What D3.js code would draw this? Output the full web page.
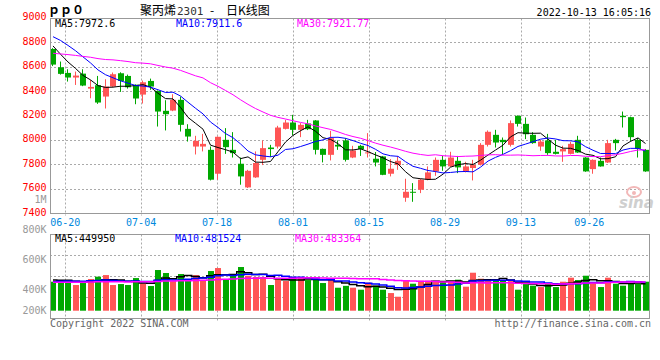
<!DOCTYPE html>
<html><head><meta charset="utf-8">
<script src="https://cdn.jsdelivr.net/npm/d3@7"></script>
<style>html,body{margin:0;padding:0;background:#fff;}svg{display:block;}</style>
</head><body>
<svg id="c" width="660" height="360"></svg>
<script>
// ---------------- DATA ----------------
const dates = ["06-16","06-17","06-20","06-21","06-22","06-23","06-24","06-27","06-28","06-29","06-30",
"07-01","07-04","07-05","07-06","07-07","07-08","07-11","07-12","07-13","07-14","07-15","07-18","07-19","07-20","07-21","07-22","07-25","07-26","07-27","07-28","07-29",
"08-01","08-02","08-03","08-04","08-05","08-08","08-09","08-10","08-11","08-12","08-15","08-16","08-17","08-18","08-19","08-22","08-23","08-24","08-25","08-26","08-29","08-30","08-31",
"09-01","09-02","09-05","09-06","09-07","09-08","09-09","09-13","09-14","09-15","09-16","09-19","09-20","09-21","09-22","09-23","09-26","09-27","09-28","09-29","09-30",
"10-10","10-11","10-12","10-13"];

const open  = [8745,8595,8549,8511,8543,8420,8448,8355,8437,8546,8524,8451,8371,8483,8401,8238,8240,8328,8090,7945,
               7945,7918,7722,8000,7918,7804,7610,7692,7836,7937,7945,8090,8142,8082,8134,8159,7926,7877,7959,7995,
               7855,7951,7891,7845,7864,7722,7793,7525,7574,7591,7673,7741,7836,7782,7828,7738,7769,7796,7959,8041,
               8000,7959,8197,8131,8041,7945,7995,7902,7905,7885,8000,7855,7760,7828,7814,8000,8197,8186,8000,7918];
const high  = [8752,8642,8579,8560,8579,8491,8524,8497,8552,8554,8535,8455,8486,8502,8405,8325,8374,8355,8128,8033,
               8049,7945,8027,8096,8063,7855,7754,7905,7995,7959,8115,8164,8205,8137,8164,8162,7928,8074,7995,8014,
               7951,7959,8055,7900,7868,7842,7864,7681,7645,7681,7782,7855,7868,7902,7868,7820,7836,7973,8077,8082,
               8019,8159,8200,8183,8063,8000,8049,8000,7951,7984,8033,7858,7840,7855,8000,8008,8232,8190,8014,7925];
const low   = [8605,8535,8478,8450,8440,8341,8295,8257,8432,8393,8420,8292,8298,8410,8109,8077,8235,8068,7986,7880,
               7905,7667,7673,7885,7855,7632,7605,7688,7793,7860,7929,8085,8038,8022,8080,7880,7815,7831,7918,7822,
               7850,7868,7855,7782,7710,7700,7754,7492,7492,7563,7668,7705,7746,7778,7727,7733,7667,7790,7945,7937,
               7877,7945,8109,8006,7968,7910,7877,7880,7820,7880,7893,7738,7722,7780,7810,7913,8101,7986,7855,7738];
const close = [8617,8541,8511,8527,8445,8434,8306,8437,8538,8483,8431,8339,8472,8437,8232,8210,8328,8123,8027,7992,
               7967,7673,8025,7940,7891,7700,7746,7810,7932,7924,8101,8142,8082,8123,8087,7918,7877,8014,7945,7836,
               7913,7924,7897,7814,7713,7763,7828,7574,7568,7673,7733,7836,7782,7855,7774,7782,7796,7959,8066,7978,
               7981,8137,8131,8046,7973,7986,7891,7885,7924,7967,7896,7741,7836,7782,7973,7973,8186,8022,7926,7741];
const volume = [483000,511000,511000,428000,461000,528000,567000,594000,428000,444000,428000,544000,456000,411000,678000,628000,494000,611000,528000,594000,
                511000,661000,711000,528000,611000,728000,583000,561000,561000,428000,539000,494000,528000,561000,511000,511000,461000,544000,383000,414000,
                383000,350000,467000,417000,350000,294000,233000,500000,450000,500000,500000,500000,483000,483000,517000,400000,633000,533000,500000,511000,
                511000,494000,350000,450000,417000,394000,461000,394000,483000,550000,511000,583000,461000,394000,550000,450000,417000,450000,450000,483000];
// sessions before 06-16 (needed only to start the moving averages), oldest first
const priorClose = [8700,8680,8720,8690,8650,8640,8660,8620,8680,8650,
                    8620,8580,8600,8640,8590,8620,8660,8700,8657,8480,
                    8850,8920,8960,8950,8930,8880,8830,8790,8733];
const priorVolume = [450000,480000,430000,500000,470000,440000,520000,460000,480000,450000,
                     490000,470000,430000,480000,460000,500000,450000,470000,460000,470000,
                     440000,470000,450000,460000,455000,530000,500000,520000,522000];

const priceTicks = [7400,7600,7800,8000,8200,8400,8600,8800,9000];
const dateTicks = ["06-20","07-04","07-18","08-01","08-15","08-29","09-13","09-26"];
const volTickValues = [1000000,800000,600000,400000,200000];
const volTickLabels = ["1M","800K","600K","400K","200K"];
const priceMAText = ["MA5:7972.6","MA10:7911.6","MA30:7921.77"];
const volMAText = ["MA5:449950","MA10:481524","MA30:483364"];
const titleCode = "ｐｐ０";
const titleName = ["聚丙烯", "2301", "-", "日K线图"];
const timeStamp = "2022-10-13 16:05:16";

// ---------------- CHART ----------------
const L = 50, R = 650;
const RED = "#ff5555", GREEN = "#00a800";
const maColors = ["#000000","#0000ff","#ff00ff"];
const mono = "'DejaVu Sans Mono', monospace";
const cjk = "'Noto Sans CJK SC', sans-serif";
const svg = d3.select("#c");
const n = dates.length;

const xb = d3.scaleBand().domain(d3.range(n)).range([L, R]);
const xg = d3.scaleLinear().domain([0, n - 1]).range([L, R]);
const y = d3.scaleLinear().domain([7400, 9000]).range([213, 17.9]);
const yv = d3.scaleLinear().domain([0, 1000000]).range([310.7, 250.7]);
const yvLabel = d3.scaleLinear().domain([200000, 1000000]).range([323.3, 203.3]);

function movAvg(prior, vals, k) {
  const all = prior.concat(vals), off = prior.length;
  return vals.map((_, i) => d3.mean(all.slice(off + i - k + 1, off + i + 1)));
}
const isUp = i => close[i] >= open[i];
const colorOf = i => isUp(i) ? RED : GREEN;

const pTop = 18.5, pBot = 213.5, vTop = 234.5, vBot = 318.5;
const gridX = dateTicks.map(d => Math.round(xg(dates.indexOf(d))) + 0.5);

// price grid
svg.append("g").selectAll("line").data(priceTicks.slice(1, -1)).join("line")
  .attr("x1", L).attr("x2", R).attr("y1", d => Math.round(y(d)) + 0.5).attr("y2", d => Math.round(y(d)) + 0.5)
  .attr("stroke", "#aaa").attr("stroke-dasharray", "2,2");
svg.append("g").selectAll("line").data(gridX).join("line")
  .attr("x1", d => d).attr("x2", d => d).attr("y1", pTop).attr("y2", pBot + 2)
  .attr("stroke", "#aaa").attr("stroke-dasharray", "2,2");
// volume grid
const vGridY = [255.5, 276.5, 297.5];
svg.append("g").selectAll("line").data(vGridY).join("line")
  .attr("x1", L).attr("x2", R).attr("y1", d => d).attr("y2", d => d)
  .attr("stroke", "#aaa").attr("stroke-dasharray", "2,2");
svg.append("g").selectAll("line").data(gridX).join("line")
  .attr("x1", d => d).attr("x2", d => d).attr("y1", vTop).attr("y2", vBot + 3)
  .attr("stroke", "#aaa").attr("stroke-dasharray", "2,2");

// watermark
const wm = svg.append("g");
wm.append("ellipse").attr("cx", 634).attr("cy", 192).attr("rx", 7).attr("ry", 5)
  .attr("fill", "none").attr("stroke", "#f2b8b8").attr("stroke-width", 2);
wm.append("circle").attr("cx", 634).attr("cy", 193).attr("r", 2).attr("fill", "#f2b8b8");
wm.append("text").attr("x", 619).attr("y", 208).text("sina")
  .attr("font-family", "'DejaVu Sans', sans-serif").attr("font-weight", "bold").attr("font-style", "italic")
  .attr("font-size", 15).attr("fill", "#cfcfcf");

// candles
const cg = svg.append("g");
d3.range(n).forEach(i => {
  const x0 = Math.round(xb(i));
  const c = colorOf(i);
  cg.append("line").attr("x1", x0 + 2.5).attr("x2", x0 + 2.5)
    .attr("y1", y(high[i])).attr("y2", y(low[i])).attr("stroke", c).attr("stroke-width", 1);
  const top = y(Math.max(open[i], close[i])), bot = y(Math.min(open[i], close[i]));
  cg.append("rect").attr("x", x0).attr("width", 6)
    .attr("y", top).attr("height", Math.max(1, bot - top)).attr("fill", c);
});

// price MAs
[5, 10, 30].forEach((k, j) => {
  const ma = movAvg(priorClose, close, k);
  svg.append("path").datum(ma)
    .attr("d", d3.line().x((d, i) => xb(i) + 3).y(d => y(d)))
    .attr("fill", "none").attr("stroke", maColors[j]).attr("stroke-width", 1);
});

// volume bars
const vg = svg.append("g");
d3.range(n).forEach(i => {
  const x0 = Math.round(xb(i));
  vg.append("rect").attr("x", x0).attr("width", 6)
    .attr("y", yv(volume[i])).attr("height", yv(0) - yv(volume[i])).attr("fill", colorOf(i));
});
// volume MAs
[5, 10, 30].forEach((k, j) => {
  const ma = movAvg(priorVolume, volume, k);
  svg.append("path").datum(ma)
    .attr("d", d3.line().x((d, i) => xb(i) + 3).y(d => yv(d)).curve(d3.curveStep))
    .attr("fill", "none").attr("stroke", maColors[j]).attr("stroke-width", 1.5);
});

// frames
svg.append("rect").attr("x", L + 0.5).attr("y", pTop).attr("width", R - L - 1).attr("height", pBot - pTop)
  .attr("fill", "none").attr("stroke", "#999");
svg.append("rect").attr("x", L + 0.5).attr("y", vTop).attr("width", R - L - 1).attr("height", vBot - vTop)
  .attr("fill", "none").attr("stroke", "#999");

// price axis labels
svg.append("g").selectAll("text").data(priceTicks).join("text")
  .attr("x", 46.5).attr("y", d => y(d) + 2.5).attr("text-anchor", "end")
  .attr("font-family", mono).attr("font-size", 10).attr("fill", "#ff0000").text(d => d);
// date labels
svg.append("g").selectAll("text").data(dateTicks).join("text")
  .attr("x", d => xg(dates.indexOf(d))).attr("y", 225.5).attr("text-anchor", "middle")
  .attr("font-family", mono).attr("font-size", 10).attr("fill", "#0088dd").text(d => d);
// volume axis labels
svg.append("g").selectAll("text").data(volTickValues).join("text")
  .attr("x", 46.5).attr("y", d => Math.min(yvLabel(d), 314)).attr("text-anchor", "end")
  .attr("font-family", mono).attr("font-size", 10).attr("fill", "#999").text((d, i) => volTickLabels[i]);

// MA headers
priceMAText.forEach((t, j) => svg.append("text").attr("x", [55, 176, 297][j]).attr("y", 26.7)
  .attr("font-family", mono).attr("font-size", 10).attr("fill", maColors[j]).text(t));
volMAText.forEach((t, j) => svg.append("text").attr("x", [55, 175, 295][j]).attr("y", 241.7)
  .attr("font-family", mono).attr("font-size", 10).attr("fill", maColors[j]).text(t));

// titles
svg.append("text").attr("x", 48).attr("y", 14).text(titleCode)
  .attr("font-family", cjk).attr("font-weight", "bold").attr("font-size", 12).attr("fill", "#000");
const tt = svg.append("text").attr("y", 15).attr("font-size", 12).attr("fill", "#000");
tt.append("tspan").attr("x", 140).attr("font-family", cjk).text(titleName[0]);
tt.append("tspan").attr("x", 177).attr("font-family", mono).attr("font-size", 11).attr("fill", "#333").text(titleName[1]);
tt.append("tspan").attr("x", 210).attr("font-family", cjk).text(titleName[2]);
tt.append("tspan").attr("x", 226).attr("font-family", cjk).text(titleName[3]);
svg.append("text").attr("x", 651).attr("y", 15.5).attr("text-anchor", "end").text(timeStamp)
  .attr("font-family", mono).attr("font-size", 10).attr("fill", "#000");

// footer
svg.append("text").attr("x", 50).attr("y", 326.5).text("Copyright 2022 SINA.COM")
  .attr("font-family", mono).attr("font-size", 10).attr("fill", "#666");
svg.append("text").attr("x", 651).attr("y", 326.5).attr("text-anchor", "end").text("http://finance.sina.com.cn")
  .attr("font-family", mono).attr("font-size", 10).attr("fill", "#666");
</script>
</body></html>
